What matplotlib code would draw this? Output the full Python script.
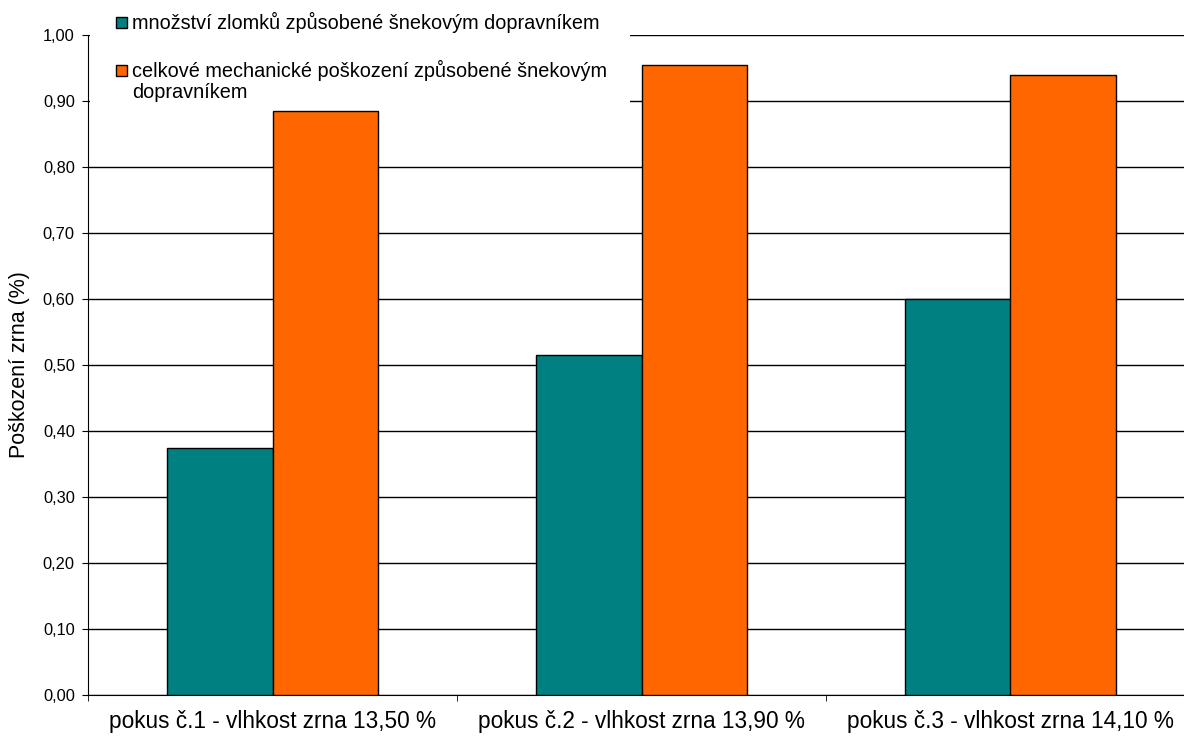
import numpy as np
import matplotlib
matplotlib.use('Agg')
import matplotlib.pyplot as plt
from matplotlib.patches import Rectangle

plt.rcParams['font.family'] = ['Liberation Sans', 'DejaVu Sans']

# data
categories = ['pokus č.1 - vlhkost zrna 13,50 %',
              'pokus č.2 - vlhkost zrna 13,90 %',
              'pokus č.3 - vlhkost zrna 14,10 %']
zlomky = [0.375, 0.515, 0.60]
celkove = [0.885, 0.955, 0.94]
series_names = ['množství zlomků způsobené šnekovým dopravníkem',
                'celkové mechanické poškození způsobené šnekovým\ndopravníkem']
colors = ['#008080', '#FF6600']

W, H = 1184, 740
fig = plt.figure(figsize=(W / 100, H / 100), dpi=100)
# axes goes a bit past the right edge, like in the original screenshot
ax = fig.add_axes([88 / W, 45 / H, 1107 / W, 660 / H])

x = np.arange(len(categories))
bw = 0.286
ax.bar(x - bw / 2, zlomky, bw, color=colors[0], edgecolor='black', linewidth=1.0, zorder=3)
ax.bar(x + bw / 2, celkove, bw, color=colors[1], edgecolor='black', linewidth=1.0, zorder=3)

ax.set_xlim(-0.5, len(categories) - 0.5)
ax.set_ylim(0, 1.0)
ticks = np.arange(0, 1.01, 0.1)
ax.set_yticks(ticks)
ax.set_yticklabels([f'{v:.2f}'.replace('.', ',') for v in ticks], fontsize=11.8)
ax.yaxis.grid(True, color='black', linewidth=1.0, zorder=0)
ax.set_axisbelow(True)

# category labels centred, ticks between the categories
ax.set_xticks(x)
ax.set_xticklabels(categories, fontsize=16.3)
ax.tick_params(axis='x', length=0, pad=11)
ax.set_xticks(np.arange(len(categories) + 1) - 0.5, minor=True)
ax.tick_params(axis='x', which='minor', length=4.5, color='black')
ax.tick_params(axis='y', length=4, color='black', pad=5.5)

for s in ['top', 'right']:
    ax.spines[s].set_visible(False)
ax.spines['left'].set_color('black')
ax.spines['bottom'].set_color('black')

ax.set_ylabel('Poškození zrna (%)', fontsize=15.5, labelpad=9)

# legend drawn by hand: white box over the gridlines (under the axis line)
ax.add_patch(Rectangle((1.5 / 1107, 0.892), 540 / 1107, 0.2,
                       transform=ax.transAxes, facecolor='white',
                       edgecolor='none', zorder=1, clip_on=False))
for name, col, yy in zip(series_names, colors, [22.5, 70.5]):
    fig.patches.append(Rectangle((116 / W, 1 - (yy + 5.5) / H), 11 / W, 11 / H,
                                 transform=fig.transFigure, facecolor=col,
                                 edgecolor='black', linewidth=1.0, zorder=4))
    fig.text(132 / W, 1 - (yy - 10.5) / H, name, fontsize=14.3, va='top',
             ha='left', linespacing=1.15, zorder=5)

fig.savefig('out.png', dpi=100)
